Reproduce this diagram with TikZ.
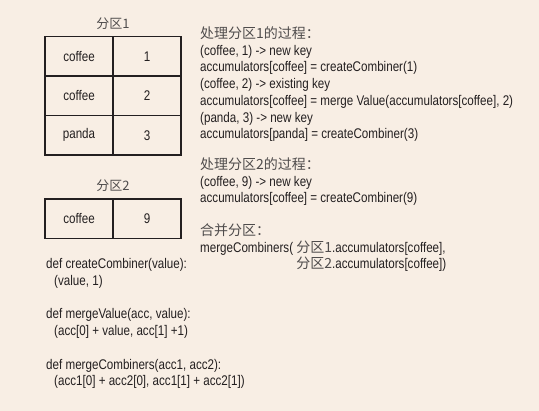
\documentclass[tikz,border=0pt]{standalone}
\usepackage{fontspec}
\setmainfont[FakeStretch=0.83]{Liberation Sans}
\newfontfamily\cjk{Noto Sans CJK SC}
\usepackage{xcolor}
\definecolor{paper}{HTML}{F8EEE4}
\definecolor{ink}{HTML}{231F20}
\usetikzlibrary{positioning}
\tikzset{cell/.style = {draw=ink, line width=1.5pt, outer sep=0pt, inner sep=0pt, minimum width=68pt, minimum height=39.4pt, text=ink, font=\fontsize{14}{16}\selectfont}}
\tikzset{title/.style = {inner sep=0pt, text=ink!80, font=\cjk\fontsize{13}{16}\selectfont}}
\tikzset{code/.style = {align=left, anchor=north west, inner sep=0pt, text=ink, font=\fontsize{14}{16.7}\selectfont}}

\begin{document}
\begin{tikzpicture}[x=1pt, y=-1pt, node distance=0pt]
\fill[paper] (0,0) rectangle (539,411);

% partition 1
\node[cell] (k1) at (79,56.4) {coffee};
\node[cell, right=of k1] (v1) {1};
\node[cell, below=of k1] (k2) {coffee};
\node[cell, right=of k2] (v2) {2};
\node[cell, below=of k2] (k3) {panda};
\node[cell, right=of k3] (v3) {3};
\node[title, above=7pt of k1.north east] (t1) {分区1};

% partition 2
\node[cell] (k4) at (79,218.6) {coffee};
\node[cell, right=of k4] (v4) {9};
\node[title, above=7pt of k4.north east] (t2) {分区2};

% steps
\node[code] (proc1) at (200,26.5) {{\cjk\color{ink!80}处理分区1的过程：}\\
(coffee, 1) -> new key\\
accumulators[coffee] = createCombiner(1)\\
(coffee, 2) -> existing key\\
accumulators[coffee] = merge Value(accumulators[coffee], 2)\\
(panda, 3) -> new key\\
accumulators[panda] = createCombiner(3)};
\node[code] (proc2) at (200,157.5) {{\cjk\color{ink!80}处理分区2的过程：}\\
(coffee, 9) -> new key\\
accumulators[coffee] = createCombiner(9)};
\node[code] (merge) at (200,223.5) {{\cjk\color{ink!80}合并分区：}\\
mergeCombiners( {\cjk\color{ink!80}分区1}.accumulators[coffee],\\
\phantom{mergeCombiners( }{\cjk\color{ink!80}分区2}.accumulators[coffee])};

% functions
\node[code] (defs) at (46,258.5) {def createCombiner(value):\\
\hspace*{8pt}(value, 1)\\[16.7pt]
def mergeValue(acc, value):\\
\hspace*{8pt}(acc[0] + value, acc[1] +1)\\[16.7pt]
def mergeCombiners(acc1, acc2):\\
\hspace*{8pt}(acc1[0] + acc2[0], acc1[1] + acc2[1])};
\end{tikzpicture}
\end{document}
